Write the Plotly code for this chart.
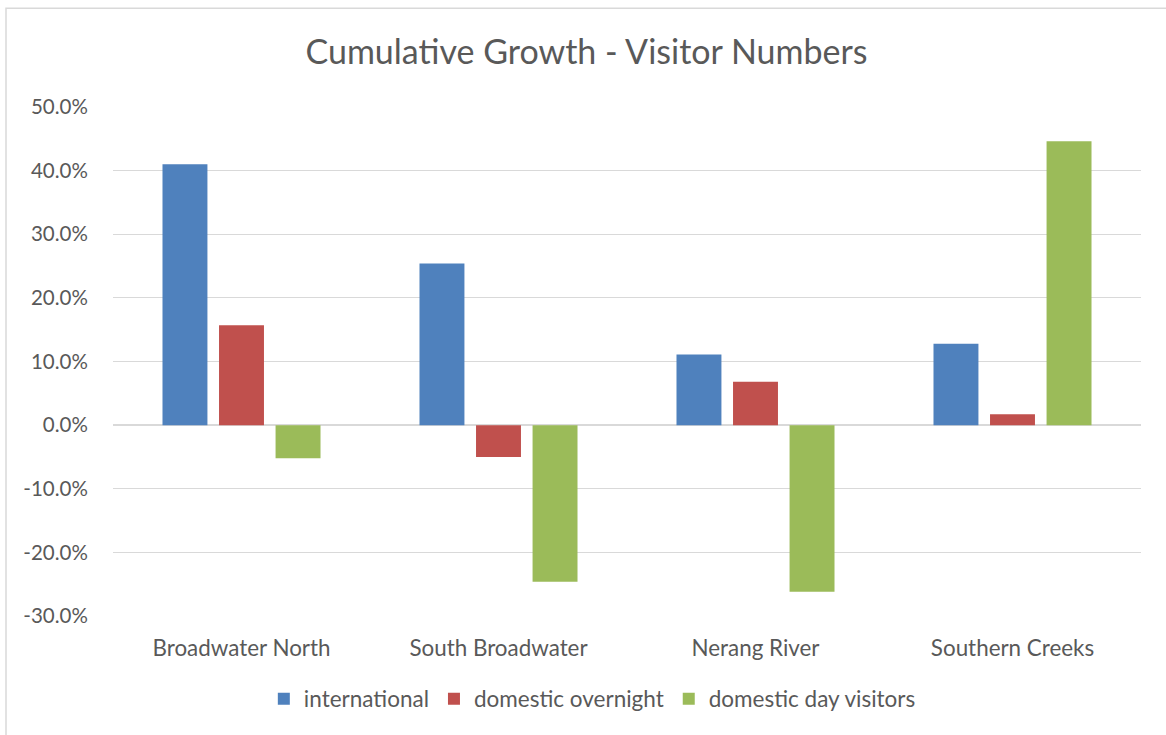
import plotly.graph_objects as go

# Cumulative growth in visitor numbers by region
regions = ["Broadwater North", "South Broadwater", "Nerang River", "Southern Creeks"]
international = [0.410, 0.254, 0.111, 0.128]
domestic_overnight = [0.157, -0.050, 0.068, 0.017]
domestic_day_visitors = [-0.052, -0.246, -0.262, 0.446]

y_tick_values = [-0.3, -0.2, -0.1, 0.0, 0.1, 0.2, 0.3, 0.4, 0.5]
y_tick_labels = ["-30.0%", "-20.0%", "-10.0%", "0.0%", "10.0%", "20.0%", "30.0%", "40.0%", "50.0%"]

series = [
    ("international", international, "#4F81BD"),
    ("domestic overnight", domestic_overnight, "#C0504D"),
    ("domestic day visitors", domestic_day_visitors, "#9BBB59"),
]

FONT = "Lato, 'Open Sans', sans-serif"
GREY_TEXT = "#595959"
GRID = "#D9D9D9"

fig = go.Figure()
for name, values, color in series:
    fig.add_trace(go.Bar(
        name=name,
        x=regions,
        y=values,
        marker=dict(color=color, line=dict(width=0)),
        hovertemplate="%{x}<br>%{y:.1%}<extra>" + name + "</extra>",
    ))

fig.update_layout(
    width=1166,
    height=735,
    margin=dict(l=113, r=25, t=107, b=119),
    paper_bgcolor="white",
    plot_bgcolor="white",
    barmode="group",
    bargap=0.34,
    bargroupgap=0.205,
    font=dict(family=FONT, color=GREY_TEXT, size=22),
    title=dict(
        text="Cumulative Growth - Visitor Numbers",
        x=0.503, xanchor="center",
        y=1 - 52 / 735, yanchor="middle",
        font=dict(size=34, color=GREY_TEXT, family=FONT),
    ),
    legend=dict(
        orientation="h",
        xref="container", x=0.508, xanchor="center",
        yref="container", y=1 - 699 / 735, yanchor="middle",
        font=dict(size=22.5, color=GREY_TEXT, family=FONT),
        itemwidth=30,
        traceorder="normal",
    ),
    showlegend=True,
)

fig.update_yaxes(
    range=[-0.3, 0.5],
    tickmode="array",
    tickvals=y_tick_values,
    ticktext=y_tick_labels,
    showgrid=True,
    gridcolor=GRID,
    gridwidth=1.3,
    zeroline=True,
    zerolinecolor=GRID,
    zerolinewidth=1.5,
    showline=False,
    ticks="outside",
    ticklen=20,
    tickcolor="rgba(0,0,0,0)",
    tickfont=dict(size=20.5, color=GREY_TEXT, family=FONT),
    fixedrange=True,
)

fig.update_xaxes(
    showgrid=False,
    showline=False,
    ticks="outside",
    ticklen=12,
    tickcolor="rgba(0,0,0,0)",
    tickfont=dict(size=22.4, color=GREY_TEXT, family=FONT),
    fixedrange=True,
)

# Outer chart-area border
fig.add_shape(
    type="rect",
    xref="paper", yref="paper",
    x0=(6 - 113) / 1028, x1=1.2,
    y0=-0.4, y1=1 + (106.7 - 8) / 509.3,
    line=dict(color=GRID, width=1.5),
    fillcolor="rgba(0,0,0,0)",
    layer="below",
)

fig.write_html("out.html")
